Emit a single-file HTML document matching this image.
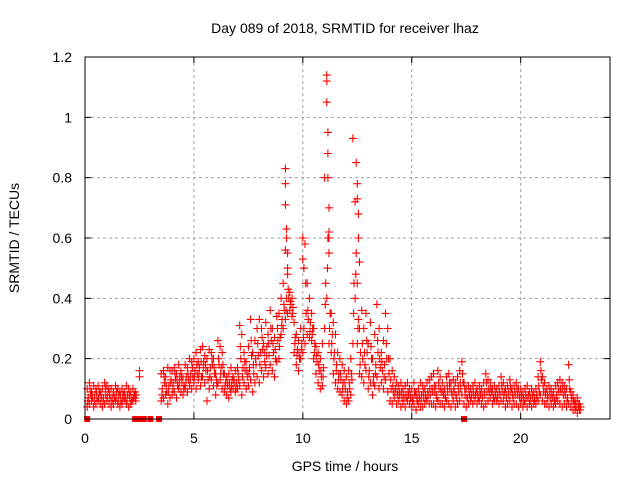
<!DOCTYPE html>
<html><head><meta charset="utf-8"><style>
body{margin:0;background:#fff}
svg{display:block;font-family:"Liberation Sans",sans-serif}
</style></head><body>
<svg id="chart" width="640" height="480">
<text x="345" y="33" text-anchor="middle" font-size="14">Day 089 of 2018, SRMTID for receiver lhaz</text>
<text x="345" y="471" text-anchor="middle" font-size="14">GPS time / hours</text>
<text transform="translate(19,238) rotate(-90)" text-anchor="middle" font-size="14">SRMTID / TECUs</text>
<g id="grid"></g>
<g id="marks"></g>
<rect x="85" y="57" width="525" height="362" fill="none" stroke="#000" stroke-width="1"/>
<g id="axes"></g>
</svg>
<script>
const xTicks=[0,5,10,15,20];
const yTicks=[0,0.2,0.4,0.6,0.8,1,1.2];
const yTickLabels=["0","0.2","0.4","0.6","0.8","1","1.2"];
const segAStart=0.1;
const segALo=[0.04,0.05,0.06,0.04,0.05,0.06,0.05,0.04,0.05,0.06,0.05,0.04,0.05,0.06,0.05,0.04,0.05,0.06,0.05,0.04,0.05,0.06,0.07];
const segAHi=[0.10,0.12,0.09,0.11,0.10,0.11,0.09,0.10,0.12,0.11,0.10,0.10,0.09,0.11,0.10,0.09,0.10,0.09,0.11,0.10,0.09,0.10,0.09];
const segAM1=[0.07,0.08,0.07,0.08,0.07,0.09,0.07,0.07,0.08,0.09,0.07,0.07,0.07,0.09,0.08,0.06,0.08,0.07,0.08,0.07,0.07,0.08,0.08];
const segAM2=[0.06,0.10,0.08,0.06,0.09,0.07,0.08,0.06,0.10,0.07,0.08,0.06,0.08,0.07,0.06,0.08,0.07,0.08,0.06,0.08,0.06,0.07,0.06];
const segBStart=3.5;
const segBLo=[0.06,0.07,0.08,0.05,0.07,
0.08,0.09,0.07,0.10,0.09,0.08,0.10,0.09,0.11,0.10,
0.12,0.10,0.13,0.11,0.14,0.12,0.06,0.10,0.13,0.11,
0.08,0.12,0.13,0.10,0.09,0.08,0.07,0.09,0.10,0.09,
0.10,0.11,0.08,0.12,0.10,0.11,0.13,0.09,0.12,0.14,
0.12,0.16,0.14,0.17,0.15,0.18,0.16,0.14,0.19,0.20,
0.28,0.30,0.33,0.35,0.36,0.34,0.22,0.18,0.16,0.20,
0.22,0.25,0.28,0.27,0.26,0.20,0.15,0.12,0.10,0.11,
0.30,0.40,0.25,0.22,0.15,0.12,0.10,0.09,0.08,0.06,
0.05,0.06,0.08,0.25,0.40,0.25,0.15,0.14,0.12,0.16,
0.10,0.12,0.08,0.11,0.14,0.10,0.12,0.10,0.13,0.09,
0.06,0.05,0.07,0.05,0.06,0.04,0.05,0.04,0.06,0.05,
0.04,0.05,0.03,0.05,0.04,0.04,0.05,0.06,0.05,0.05,
0.05,0.04,0.06,0.05,0.05,0.04,0.06,0.05,0.04,0.06,
0.04,0.05,0.06,0.08,0.05,0.04,0.05,0.06,0.05,0.06,
0.05,0.06,0.05,0.04,0.05,0.06,0.07,0.05,0.06,0.06,
0.05,0.06,0.06,0.04,0.05,0.06,0.04,0.05,0.05,0.04,
0.05,0.04,0.05,0.04,0.05,0.04,0.05,0.05,0.06,0.08,
0.06,0.05,0.05,0.04,0.05,0.04,0.05,0.06,0.05,0.04,
0.05,0.04,0.05,0.04,0.03,0.03,0.02,0.03];
const segBHi=[0.15,0.16,0.14,0.17,0.16,
0.16,0.17,0.15,0.18,0.16,0.14,0.18,0.17,0.20,0.19,
0.20,0.22,0.19,0.23,0.24,0.21,0.20,0.23,0.22,0.20,
0.15,0.26,0.24,0.22,0.15,0.14,0.15,0.17,0.14,0.16,
0.17,0.31,0.28,0.22,0.19,0.24,0.33,0.22,0.26,0.30,
0.33,0.30,0.25,0.32,0.28,0.36,0.30,0.27,0.34,0.35,
0.40,0.45,0.56,0.48,0.42,0.40,0.32,0.28,0.26,0.30,
0.60,0.58,0.45,0.40,0.35,0.30,0.24,0.22,0.20,0.25,
0.80,1.14,0.60,0.35,0.32,0.28,0.22,0.20,0.18,0.16,
0.14,0.16,0.20,0.93,0.72,0.45,0.30,0.36,0.30,0.35,
0.25,0.32,0.20,0.28,0.38,0.30,0.22,0.26,0.35,0.30,
0.20,0.16,0.14,0.12,0.11,0.12,0.10,0.11,0.12,0.10,
0.10,0.12,0.09,0.10,0.12,0.11,0.10,0.12,0.13,0.14,
0.15,0.11,0.16,0.14,0.12,0.10,0.14,0.15,0.12,0.13,
0.12,0.14,0.16,0.19,0.12,0.10,0.11,0.10,0.11,0.12,
0.10,0.11,0.10,0.12,0.15,0.13,0.12,0.10,0.11,0.10,
0.11,0.14,0.12,0.10,0.11,0.13,0.10,0.11,0.12,0.10,
0.10,0.09,0.10,0.11,0.09,0.10,0.09,0.10,0.14,0.19,
0.14,0.12,0.10,0.11,0.10,0.09,0.11,0.12,0.13,0.12,
0.11,0.10,0.18,0.09,0.08,0.06,0.07,0.05];
const segBM1=[0.10,0.12,0.09,0.11,0.13,
0.12,0.13,0.11,0.14,0.12,0.11,0.14,0.13,0.15,0.14,
0.16,0.15,0.17,0.14,0.19,0.16,0.13,0.17,0.18,0.15,
0.11,0.18,0.17,0.15,0.12,0.11,0.10,0.13,0.12,0.12,
0.13,0.20,0.17,0.16,0.14,0.17,0.21,0.15,0.18,0.21,
0.22,0.23,0.19,0.24,0.21,0.26,0.22,0.20,0.26,0.27,
0.33,0.36,0.40,0.40,0.38,0.37,0.27,0.23,0.20,0.25,
0.30,0.35,0.33,0.32,0.30,0.25,0.19,0.16,0.14,0.17,
0.45,0.60,0.35,0.28,0.22,0.18,0.15,0.13,0.12,0.10,
0.09,0.10,0.13,0.45,0.55,0.33,0.22,0.20,0.18,0.22,
0.16,0.20,0.14,0.18,0.22,0.17,0.16,0.18,0.20,0.15,
0.10,0.09,0.10,0.08,0.08,0.07,0.07,0.07,0.08,0.07,
0.07,0.08,0.06,0.07,0.08,0.07,0.07,0.08,0.08,0.09,
0.09,0.07,0.10,0.09,0.08,0.07,0.09,0.10,0.08,0.09,
0.07,0.09,0.10,0.12,0.08,0.07,0.08,0.08,0.08,0.09,
0.07,0.08,0.07,0.08,0.09,0.09,0.09,0.07,0.08,0.08,
0.08,0.09,0.09,0.07,0.08,0.09,0.07,0.08,0.08,0.07,
0.07,0.06,0.07,0.08,0.07,0.07,0.07,0.07,0.09,0.13,
0.09,0.08,0.07,0.07,0.07,0.06,0.08,0.09,0.09,0.08,
0.08,0.07,0.10,0.06,0.05,0.04,0.04,0.04];
const segBM2=[0.08,0.14,0.11,0.09,0.12,
0.10,0.15,0.13,0.12,0.14,0.10,0.12,0.15,0.13,0.17,
0.14,0.18,0.15,0.19,0.17,0.18,0.16,0.14,0.20,0.17,
0.13,0.20,0.15,0.18,0.11,0.12,0.12,0.11,0.13,0.10,
0.15,0.24,0.14,0.19,0.16,0.15,0.26,0.18,0.20,0.25,
0.18,0.27,0.22,0.21,0.25,0.30,0.25,0.23,0.30,0.24,
0.31,0.38,0.36,0.43,0.39,0.35,0.25,0.21,0.22,0.23,
0.27,0.45,0.36,0.29,0.28,0.22,0.21,0.18,0.16,0.14,
0.38,0.50,0.30,0.25,0.20,0.16,0.13,0.15,0.10,0.12,
0.07,0.12,0.15,0.35,0.48,0.30,0.18,0.25,0.22,0.26,
0.14,0.24,0.12,0.15,0.26,0.20,0.19,0.14,0.25,0.20,
0.13,0.11,0.09,0.09,0.09,0.09,0.08,0.08,0.09,0.08,
0.06,0.09,0.07,0.08,0.06,0.09,0.08,0.09,0.10,0.10,
0.11,0.08,0.12,0.10,0.09,0.08,0.11,0.12,0.09,0.10,
0.08,0.11,0.12,0.15,0.10,0.07,0.09,0.07,0.09,0.08,
0.08,0.09,0.08,0.09,0.12,0.10,0.10,0.08,0.09,0.07,
0.09,0.11,0.08,0.08,0.09,0.11,0.08,0.09,0.10,0.08,
0.08,0.07,0.08,0.07,0.06,0.08,0.06,0.08,0.11,0.16,
0.11,0.09,0.08,0.09,0.08,0.07,0.07,0.10,0.10,0.10,
0.09,0.06,0.13,0.07,0.06,0.05,0.05,0.03];
const extraT=[2.5,2.5,9.2,9.2,9.2,9.25,9.25,9.3,9.3,10.0,10.05,11.1,11.1,11.15,11.15,11.15,11.2,11.2,11.2,12.45,12.5,12.5,12.55,12.55,12.6];
const extraV=[0.14,0.16,0.83,0.78,0.71,0.63,0.60,0.55,0.50,0.53,0.50,1.12,1.05,0.95,0.88,0.80,0.70,0.62,0.55,0.85,0.78,0.73,0.68,0.60,0.52];
const zeroT=[0.1,2.3,2.5,2.7,3.0,3.4,17.4];

const X0=85,X1=610,Y0=419,Y1=57,XMAX=24.1,YMAX=1.2;
const sx=t=>X0+t/XMAX*(X1-X0);
const sy=v=>Y0-v/YMAX*(Y0-Y1);
const NS="http://www.w3.org/2000/svg";
const grid=document.getElementById('grid'),axes=document.getElementById('axes'),marks=document.getElementById('marks');
function mk(tag,attrs,parent){const e=document.createElementNS(NS,tag);for(const k in attrs)e.setAttribute(k,attrs[k]);parent.appendChild(e);return e;}
xTicks.forEach(t=>{
  const x=sx(t);
  if(t>0){const g=mk('line',{x1:x,x2:x,y1:Y1,y2:Y0,stroke:'#a0a0a0','stroke-dasharray':'3,3'},grid);
  
  }
  const tk=mk('path',{d:`M${x},${Y0}v-6M${x},${Y1}v6`,stroke:'#000'},axes);
  
  
  const l=mk('text',{x:x,y:Y0+24,'text-anchor':'middle','font-size':14},axes);l.textContent=t;
  
  
});
yTicks.forEach((v,i)=>{
  const y=sy(v);
  if(v>0){const g=mk('line',{x1:X0,x2:X1,y1:y,y2:y,stroke:'#a0a0a0','stroke-dasharray':'3,3'},grid);
  
  }
  const tk=mk('path',{d:`M${X0},${y}h6M${X1},${y}h-6`,stroke:'#000'},axes);
  
  
  const l=mk('text',{x:X0-13,y:y+5,'text-anchor':'end','font-size':14},axes);l.textContent=yTickLabels[i];
  
  
});
let d='';
function plus(t,v){const x=sx(t),y=sy(v);d+=`M${(x-4).toFixed(1)},${y.toFixed(1)}h8M${x.toFixed(1)},${(y-4).toFixed(1)}v8`;}
segALo.forEach((v,i)=>plus(segAStart+i*0.1,v));
segAHi.forEach((v,i)=>plus(segAStart+i*0.1,v));
segAM1.forEach((v,i)=>plus(segAStart+i*0.1+0.05,v));
segAM2.forEach((v,i)=>plus(segAStart+i*0.1+0.03,v));
segBLo.forEach((v,i)=>plus(segBStart+i*0.1,v));
segBHi.forEach((v,i)=>plus(segBStart+i*0.1,v));
segBM1.forEach((v,i)=>plus(segBStart+i*0.1+0.05,v));
segBM2.forEach((v,i)=>plus(segBStart+i*0.1+0.03,v));
extraT.forEach((t,i)=>plus(t,extraV[i]));
const p=mk('path',{d:d,stroke:'#ff0000','stroke-width':1.1,fill:'none'},marks);


zeroT.forEach(t=>{
  const r=mk('rect',{x:sx(t)-3,y:Y0-3,width:6,height:6,fill:'#ff0000'},marks);
  
  
});
</script>
</body></html>
